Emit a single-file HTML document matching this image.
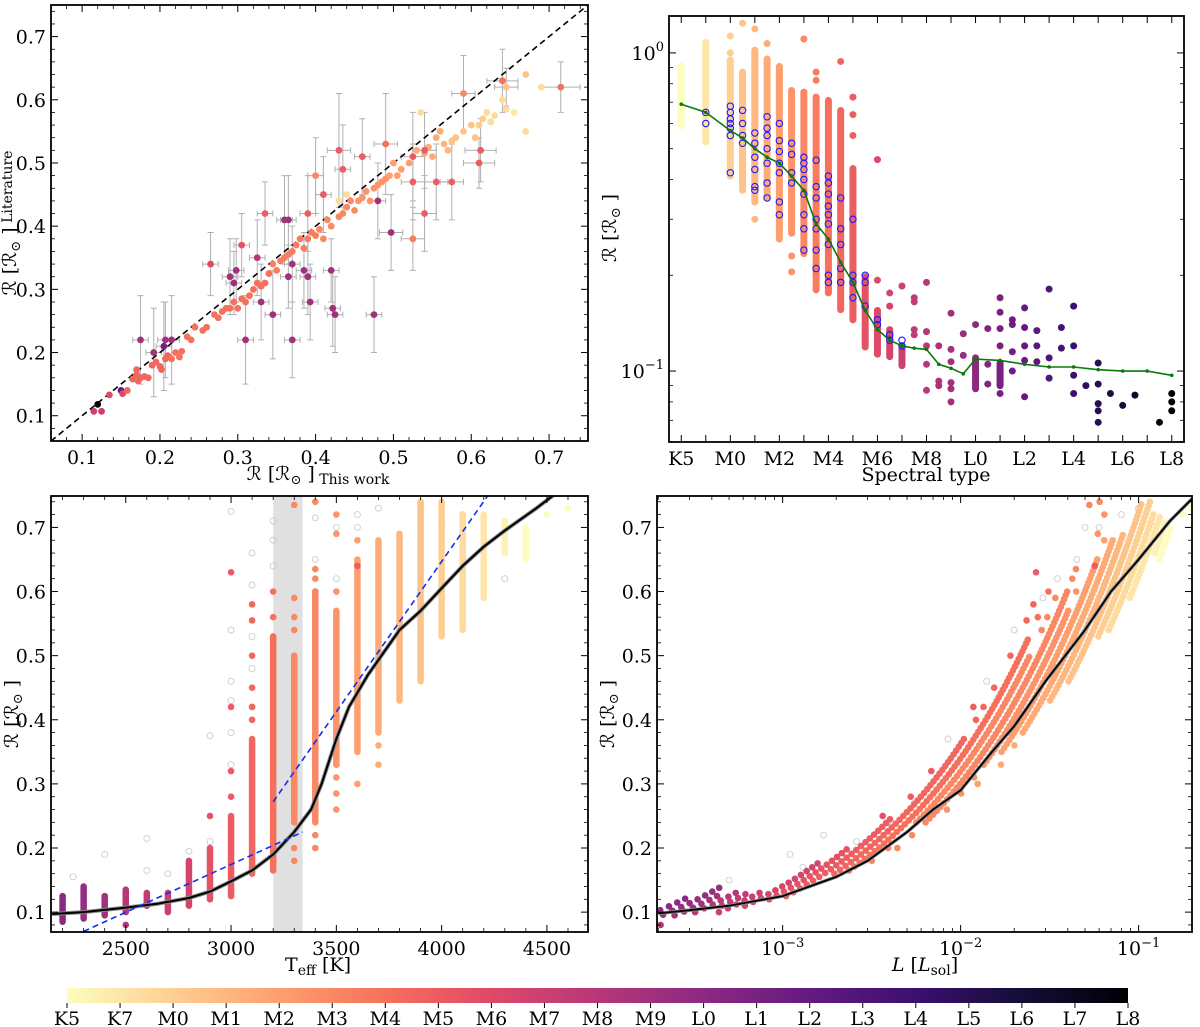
<!DOCTYPE html>
<html><head><meta charset="utf-8"><style>
html,body{margin:0;padding:0;background:#fff;}
svg{display:block;font-family:"DejaVu Serif","Liberation Serif",serif;}
</style></head><body>
<svg id="fig" width="1200" height="1027" viewBox="0 0 1200 1027" xmlns="http://www.w3.org/2000/svg"></svg>
<script>
// ---------- Panel 1 data: this work vs literature ----------
const p1X=[0.115,0.125,0.12,0.135,0.15,0.152,0.158,0.165,0.17,0.172,0.175,0.17,0.18,0.185,0.19,0.195,0.2,0.202,0.207,0.21,0.215,0.22,0.225,0.228,0.235,0.24,0.245,0.255,0.26,0.27,0.275,0.28,0.285,0.29,0.295,0.3,0.305,0.31,0.315,0.32,0.325,0.33,0.335,0.34,0.345,0.35,0.355,0.36,0.365,0.37,0.375,0.38,0.385,0.39,0.395,0.4,0.405,0.41,0.415,0.42,0.43,0.435,0.44,0.445,0.45,0.455,0.46,0.465,0.47,0.475,0.48,0.485,0.49,0.495,0.5,0.505,0.51,0.52,0.53,0.54,0.545,0.55,0.555,0.56,0.565,0.57,0.575,0.58,0.59,0.6,0.605,0.61,0.615,0.62,0.625,0.63,0.64,0.645,0.655,0.67,0.67,0.69,0.535,0.44,0.43];
const p1Y=[0.107,0.107,0.118,0.133,0.14,0.135,0.14,0.158,0.165,0.155,0.16,0.173,0.162,0.16,0.18,0.185,0.178,0.173,0.19,0.195,0.19,0.2,0.193,0.202,0.225,0.22,0.24,0.235,0.24,0.26,0.255,0.265,0.27,0.27,0.28,0.27,0.285,0.28,0.29,0.3,0.31,0.305,0.31,0.325,0.34,0.33,0.345,0.35,0.355,0.36,0.37,0.38,0.365,0.38,0.39,0.385,0.395,0.38,0.41,0.4,0.415,0.42,0.43,0.44,0.425,0.44,0.445,0.455,0.44,0.46,0.465,0.47,0.475,0.48,0.5,0.48,0.49,0.5,0.52,0.515,0.525,0.51,0.54,0.55,0.53,0.52,0.535,0.54,0.55,0.56,0.54,0.56,0.57,0.58,0.565,0.575,0.6,0.585,0.58,0.55,0.64,0.62,0.58,0.45,0.44];
const p1S=[9,9,20,8,14,8,6.5,6.5,6.5,6.5,6.5,6.5,6.5,6.5,6.5,6.5,6.5,6.5,6.5,6.5,6,6,6,6,6,6,6,6,6,6,6,6,6,6,6,6,6,6,6,6,6,6,6,6,5.5,5.5,5.5,5.5,5.5,5.5,5.5,5.5,5.5,5.5,5.5,5.5,5,5,5,5,5,5,5,5,5,4.5,4.5,4.5,4.5,4.5,4.5,4.5,4.5,4,4,4,4,4,3.5,3.5,3.5,3.5,3.5,3.5,3,3,2.5,2.5,2.5,2.5,2.5,2,2,1.5,1.5,1.5,1.5,1.5,1,1.5,2.5,1.5,1.5,1.5,1.5,1.5];
const eX=[0.175,0.192,0.205,0.207,0.215,0.265,0.29,0.295,0.298,0.305,0.31,0.325,0.33,0.335,0.345,0.36,0.365,0.365,0.37,0.37,0.385,0.39,0.39,0.393,0.4,0.41,0.42,0.422,0.425,0.43,0.435,0.46,0.475,0.49,0.48,0.497,0.525,0.525,0.525,0.54,0.54,0.555,0.575,0.59,0.61,0.612,0.64,0.715,0.645];
const eY=[0.22,0.2,0.21,0.22,0.22,0.34,0.32,0.31,0.33,0.37,0.22,0.35,0.28,0.42,0.26,0.41,0.41,0.32,0.22,0.34,0.33,0.32,0.42,0.28,0.48,0.45,0.33,0.27,0.26,0.52,0.49,0.51,0.26,0.53,0.44,0.39,0.51,0.47,0.38,0.52,0.42,0.47,0.47,0.61,0.5,0.52,0.63,0.62,0.62];
const eXerr=[0.01,0.01,0.01,0.01,0.01,0.01,0.01,0.01,0.01,0.01,0.01,0.01,0.01,0.01,0.01,0.01,0.01,0.01,0.01,0.01,0.01,0.01,0.01,0.01,0.01,0.01,0.01,0.01,0.01,0.015,0.01,0.01,0.01,0.015,0.01,0.015,0.015,0.015,0.015,0.015,0.015,0.015,0.015,0.015,0.02,0.02,0.02,0.025,0.015];
const eYerr=[0.07,0.07,0.07,0.06,0.07,0.05,0.06,0.05,0.05,0.05,0.07,0.06,0.06,0.05,0.07,0.07,0.07,0.05,0.06,0.06,0.06,0.06,0.06,0.06,0.06,0.06,0.05,0.06,0.06,0.09,0.07,0.06,0.06,0.08,0.06,0.06,0.07,0.06,0.05,0.06,0.06,0.06,0.06,0.06,0.04,0.05,0.05,0.04,0.03];
const eS=[11,11,13,11,11,8,11,11,11,7.5,11,10,11,7,11,11,11,11,11,11,11,11,7,11,5,7,11,11,11,7,7,7,11,6,11,11,7,7,5.5,7,7,7,7,5,7,7,6,6,2.5];

// ---------- Panel 2 data: radius vs spectral type ----------
const sptTickLabels=["K5","M0","M2","M4","M6","M8","L0","L2","L4","L6","L8"];
const sptTickPos=[0,2,4,6,8,10,12,14,16,18,20];
const colSpt=[0,1,2,2.5,3,3.5,4,4.5,5,5.5,6,6.5,7,7.5,8,8.5,9,12,13];
const colMin=[0.59,0.525,0.41,0.37,0.34,0.35,0.264,0.271,0.234,0.18,0.176,0.156,0.145,0.119,0.113,0.111,0.104,0.088,0.09];
const colMax=[0.91,1.08,0.95,0.87,1.02,0.957,0.906,0.762,0.753,0.726,0.709,0.659,0.433,0.198,0.155,0.135,0.12,0.11,0.106];
const ptSpt=[2,2,2.5,3,3,3.5,4,4.5,4.5,5,5.5,5.5,5.5,6.5,7,7,7,8,8,8.5,8.5,9,9.5,9.5,9.5,9.5,10,10,10,10,10,10.5,10.5,10.5,11,11,11,11,11,11,11.5,11.5,12,12.5,12.5,12.5,13,13,13,13,13,13.5,13.5,13.5,13.5,14,14,14,14,14,14.5,14.5,14.5,15,15,15,15.5,15.5,16,16,16,16,16.5,17,17,17,17,17,17.5,18,18.5,19.5,20,20,20];
const ptR=[1.13,1.0,1.24,1.19,0.3,1.07,0.26,0.205,0.23,1.106,0.87,0.82,0.2,0.94,0.64,0.55,0.726,0.462,0.193,0.176,0.16,0.185,0.17,0.165,0.135,0.13,0.19,0.133,0.12,0.105,0.087,0.12,0.093,0.09,0.152,0.117,0.107,0.092,0.088,0.08,0.131,0.112,0.14,0.136,0.105,0.091,0.17,0.153,0.136,0.12,0.085,0.145,0.14,0.115,0.1,0.158,0.137,0.12,0.108,0.083,0.134,0.12,0.107,0.181,0.11,0.095,0.137,0.118,0.16,0.12,0.097,0.085,0.09,0.106,0.091,0.079,0.075,0.069,0.085,0.078,0.084,0.069,0.085,0.08,0.075];
const openSpt=[1,1,2,2,2,2,2,2,2,2.5,2.5,2.5,2.5,3,3,3,3,3,3,3.5,3.5,3.5,3.5,3.5,3.5,3.5,4,4,4,4,4,4,4,4.5,4.5,4.5,4.5,5,5,5,5,5,5,5,5,5.5,5.5,5.5,5.5,5.5,5.5,5.5,6,6,6,6,6,6,6,6,6,6.5,6.5,6.5,6.5,6.5,7,7,7,7,7.5,7.5,7.5,8,8,8.5,8.5,9,9];
const openR=[0.65,0.6,0.68,0.65,0.62,0.6,0.58,0.55,0.42,0.66,0.6,0.55,0.52,0.56,0.52,0.47,0.43,0.38,0.37,0.63,0.58,0.55,0.5,0.45,0.39,0.35,0.6,0.53,0.49,0.45,0.42,0.34,0.31,0.52,0.48,0.42,0.39,0.47,0.45,0.43,0.4,0.36,0.31,0.28,0.24,0.46,0.38,0.35,0.3,0.28,0.24,0.21,0.41,0.39,0.36,0.33,0.31,0.29,0.25,0.2,0.19,0.35,0.28,0.25,0.21,0.19,0.3,0.2,0.19,0.17,0.2,0.19,0.16,0.145,0.14,0.13,0.125,0.125,0.12];
const medSpt=[0,1,2,2.5,3,3.5,4,4.5,5,5.5,6,6.5,7,7.5,8,8.5,9,9.5,10,10.5,11,11.5,12,13,14,15,16,17,18,19,20];
const medR=[0.69,0.65,0.57,0.54,0.5,0.47,0.45,0.41,0.37,0.29,0.26,0.22,0.19,0.155,0.135,0.125,0.12,0.118,0.117,0.105,0.102,0.098,0.109,0.108,0.105,0.103,0.103,0.101,0.1,0.1,0.097];

// ---------- Panel 3 data: radius vs Teff ----------
const tCol=[2200,2300,2400,2500,2600,2700,2800,2900,3000,3100,3200,3300,3400,3500,3600,3700,3800,3900,4000,4100,4200,4300,4400];
const tMin=[0.085,0.09,0.095,0.1,0.11,0.1,0.11,0.12,0.125,0.16,0.165,0.24,0.24,0.33,0.35,0.38,0.43,0.46,0.53,0.54,0.59,0.66,0.65];
const tMax=[0.125,0.14,0.125,0.135,0.13,0.13,0.18,0.2,0.25,0.37,0.53,0.5,0.6,0.57,0.65,0.68,0.69,0.74,0.74,0.72,0.72,0.71,0.7];
const tSpt=[12,11.5,11,10,9.5,9,8.5,7.5,7,6.5,6,5,5,4.5,4,3.5,3,2.5,2,1.5,1,0.5,0];
const tPtT=[2500,2900,3000,3000,3000,3000,3100,3100,3100,3100,3100,3100,3200,3200,3300,3300,3300,3300,3300,3300,3400,3400,3400,3400,3400,3500,3500,3500,3500,3500,3500,3600,3600,3700,3700,4500,4600,3600];
const tPtR=[0.08,0.25,0.28,0.32,0.42,0.63,0.4,0.42,0.45,0.5,0.555,0.58,0.56,0.6,0.18,0.2,0.54,0.56,0.59,0.735,0.2,0.22,0.62,0.635,0.74,0.26,0.285,0.31,0.6,0.69,0.72,0.3,0.68,0.33,0.36,0.72,0.73,0.64];
const tPtS=[10,7.5,7,7,7,7,6.5,6.5,6.5,6.5,6.5,6.5,6,6,5,5,5,5,5,5,5,5,5,5,5,4.5,4.5,4.5,4.5,4.5,4.5,4,4,3.5,3.5,0,0,7];
const gT=[2250,2400,2600,2600,2700,2800,2900,2900,3000,3000,3000,3000,3000,3000,3100,3100,3100,3100,3100,3200,3200,3200,3400,3400,3400,3500,3500,3500,3600,3600,3700,3800,3900,4000,4100,4200,4300];
const gR=[0.155,0.19,0.165,0.215,0.16,0.195,0.21,0.375,0.33,0.38,0.43,0.46,0.54,0.725,0.42,0.48,0.53,0.61,0.66,0.64,0.68,0.71,0.6,0.65,0.715,0.33,0.62,0.7,0.7,0.72,0.73,0.47,0.73,0.7,0.72,0.715,0.62];
const fitT=[2150,2300,2500,2650,2800,2900,3000,3100,3200,3300,3380,3430,3500,3560,3650,3800,3900,4000,4100,4200,4300,4450,4550];
const fitR=[0.097,0.1,0.107,0.113,0.122,0.132,0.148,0.165,0.19,0.225,0.26,0.3,0.37,0.42,0.47,0.54,0.57,0.605,0.64,0.67,0.695,0.73,0.755];
const dash1T=[2300,3340], dash1R=[0.07,0.225];
const dash2T=[3200,4220], dash2R=[0.272,0.75];

// ---------- Panel 4 data: radius vs luminosity ----------
const fitL=[2e-4,3e-4,5e-4,1e-3,2e-3,3e-3,5e-3,7e-3,1e-2,1.5e-2,2e-2,3e-2,5e-2,7e-2,0.1,0.15,0.2];
const fitLR=[0.098,0.103,0.11,0.125,0.155,0.18,0.225,0.26,0.29,0.35,0.39,0.46,0.54,0.6,0.65,0.71,0.745];
const gL=[5e-4,9e-4,1.1e-3,1.3e-3,1.7e-3,2.6e-3,3.9e-3,5.5e-3,8.5e-3,1.4e-2,2e-2,2.9e-2,3.5e-2,4.5e-2,5e-2,6e-2,8e-2,1e-1,1.2e-1];
const gLR=[0.15,0.13,0.19,0.17,0.22,0.21,0.24,0.27,0.37,0.46,0.54,0.59,0.62,0.65,0.7,0.7,0.72,0.73,0.7];
const cbLabels=["K5","K7","M0","M1","M2","M3","M4","M5","M6","M7","M8","M9","L0","L1","L2","L3","L4","L5","L6","L7","L8"];

// ---------- helpers ----------
const NS="http://www.w3.org/2000/svg";
const svg=document.getElementById('fig');
const FS=19;
function mk(tag,attrs,name,parent){
  const el=document.createElementNS(NS,tag);
  for(const k in attrs) el.setAttribute(k,attrs[k]);
  
  
  (parent||svg).appendChild(el);
  return el;
}
const MAG=[[0,0,0,4],[0.1,20,14,54],[0.2,59,15,112],[0.3,100,26,128],[0.4,140,41,129],[0.5,183,55,121],[0.6,222,73,104],[0.7,247,112,92],[0.8,254,159,109],[0.9,254,207,146],[1,252,253,191]];
function cmap(spt){
  let t=1-spt/20; t=Math.max(0,Math.min(1,t));
  for(let i=0;i<MAG.length-1;i++){const a=MAG[i],b=MAG[i+1];
    if(t<=b[0]){const f=(t-a[0])/(b[0]-a[0]);
      return `rgb(${Math.round(a[1]+f*(b[1]-a[1]))},${Math.round(a[2]+f*(b[2]-a[2]))},${Math.round(a[3]+f*(b[3]-a[3]))})`;}}
  return 'rgb(252,253,191)';
}
function P(x0,x1,y0,y1,xmin,xmax,ymin,ymax,xlog,ylog,id){return {x0,x1,y0,y1,xmin,xmax,ymin,ymax,xlog,ylog,id};}
function sx(p,v){const u=p.xlog?Math.log10(v):v;return p.x0+(u-p.xmin)/(p.xmax-p.xmin)*(p.x1-p.x0);}
function sy(p,v){const u=p.ylog?Math.log10(v):v;return p.y1-(u-p.ymin)/(p.ymax-p.ymin)*(p.y1-p.y0);}
const defs=mk('defs',{},'defs');
function clip(p){const c=mk('clipPath',{id:'c'+p.id},'clip-'+p.id,defs);mk('rect',{x:p.x0,y:p.y0,width:p.x1-p.x0,height:p.y1-p.y0},'clip-rect',c);return mk('g',{'clip-path':`url(#c${p.id})`},'plot-area-'+p.id);}
function frame(p){mk('rect',{x:p.x0,y:p.y0,width:p.x1-p.x0,height:p.y1-p.y0,fill:'none',stroke:'#000','stroke-width':1.8},'axes-frame-'+p.id);}
function xticks(p,majors,minors,labels){
  majors.forEach((v,i)=>{const x=sx(p,v);
    mk('line',{x1:x,x2:x,y1:p.y1,y2:p.y1-7,stroke:'#000','stroke-width':1},'x-major-tick');
    mk('line',{x1:x,x2:x,y1:p.y0,y2:p.y0+7,stroke:'#000','stroke-width':1},'x-major-tick-top');
    if(labels){const t=mk('text',{x:x,y:p.y1+23,'text-anchor':'middle','font-size':FS},'x-tick-label');
      if(typeof labels[i]==='object'){t.textContent='10';const s=mk('tspan',{dy:-8,'font-size':13},'tick-exponent',t);s.textContent=labels[i].e;}
      else t.textContent=labels[i];}
  });
  minors.forEach(v=>{const x=sx(p,v);
    mk('line',{x1:x,x2:x,y1:p.y1,y2:p.y1-4,stroke:'#000','stroke-width':0.8},'x-minor-tick');
    mk('line',{x1:x,x2:x,y1:p.y0,y2:p.y0+4,stroke:'#000','stroke-width':0.8},'x-minor-tick-top');});
}
function yticks(p,majors,minors,labels){
  majors.forEach((v,i)=>{const y=sy(p,v);
    mk('line',{x1:p.x0,x2:p.x0+7,y1:y,y2:y,stroke:'#000','stroke-width':1},'y-major-tick');
    mk('line',{x1:p.x1,x2:p.x1-7,y1:y,y2:y,stroke:'#000','stroke-width':1},'y-major-tick-right');
    const t=mk('text',{x:p.x0-5,y:y+7,'text-anchor':'end','font-size':FS},'y-tick-label');
    if(typeof labels[i]==='object'){t.textContent='10';const s=mk('tspan',{dy:-9,'font-size':13},'tick-exponent',t);s.textContent=labels[i].e;}
    else t.textContent=labels[i];
  });
  minors.forEach(v=>{const y=sy(p,v);
    mk('line',{x1:p.x0,x2:p.x0+4,y1:y,y2:y,stroke:'#000','stroke-width':0.8},'y-minor-tick');
    mk('line',{x1:p.x1,x2:p.x1-4,y1:y,y2:y,stroke:'#000','stroke-width':0.8},'y-minor-tick-right');});
}
function range(a,b,s){const r=[];for(let v=a;v<=b+1e-9;v+=s)r.push(+v.toFixed(4));return r;}
function ylab(x,y,sub){const t=mk('text',{x:0,y:0,'text-anchor':'middle','font-size':FS,transform:`translate(${x},${y}) rotate(-90)`},'y-axis-title');
  t.textContent='ℛ [ℛ';const s=mk('tspan',{'font-size':13,dy:4},'sun-subscript',t);s.textContent='⊙';const s2=mk('tspan',{dy:-4},'bracket',t);s2.textContent=' ]';
  if(sub){const s3=mk('tspan',{'font-size':14,dy:-4},'y-title-sub',t);s3.textContent=' '+sub;}}
function line(g,p,xs,ys,attrs,name){const d=xs.map((v,i)=>(i?'L':'M')+sx(p,v).toFixed(1)+','+sy(p,ys[i]).toFixed(1)).join('');const a=Object.assign({d:d,fill:'none'},attrs);return mk('path',a,name,g);}
const rng01=[0.1,0.2,0.3,0.4,0.5,0.6,0.7];
const minor01=range(0.06,0.75,0.02).filter(v=>!rng01.some(m=>Math.abs(m-v)<1e-6));

// ---------- Panel 1 ----------
const p1=P(51,588,5,441,0.06,0.75,0.06,0.75,false,false,'p1');
let g=clip(p1);
eX.forEach((x,i)=>{
  const X=sx(p1,x),Y=sy(p1,eY[i]),xa=sx(p1,x-eXerr[i]),xb=sx(p1,x+eXerr[i]),ya=sy(p1,eY[i]-eYerr[i]),yb=sy(p1,eY[i]+eYerr[i]);
  mk('path',{d:`M${xa},${Y}H${xb}M${X},${ya}V${yb}M${xa},${Y-3}V${Y+3}M${xb},${Y-3}V${Y+3}M${X-3},${ya}H${X+3}M${X-3},${yb}H${X+3}`,stroke:'#b0b0b0','stroke-width':1,fill:'none'},'error-bar',g);
});
mk('line',{x1:sx(p1,0.06),y1:sy(p1,0.06),x2:sx(p1,0.75),y2:sy(p1,0.75),stroke:'#000','stroke-width':1.6,'stroke-dasharray':'6,4'},'one-to-one-line',g);
p1X.forEach((x,i)=>{mk('circle',{cx:sx(p1,x),cy:sy(p1,p1Y[i]),r:3.4,fill:cmap(p1S[i])},'star-point',g);});
eX.forEach((x,i)=>{mk('circle',{cx:sx(p1,x),cy:sy(p1,eY[i]),r:3.4,fill:cmap(eS[i])},'star-point-literature',g);});
frame(p1);
xticks(p1,rng01,minor01,rng01.map(v=>v.toFixed(1)));
yticks(p1,rng01,minor01,rng01.map(v=>v.toFixed(1)));
ylab(16,223,'Literature');
{const t=mk('text',{x:318,y:480,'text-anchor':'middle','font-size':FS},'x-axis-title');t.textContent='ℛ [ℛ';const s=mk('tspan',{'font-size':13,dy:4},'sun-subscript',t);s.textContent='⊙';const s2=mk('tspan',{dy:-4},'bracket',t);s2.textContent=' ]';const s3=mk('tspan',{'font-size':14,dy:4},'x-title-sub',t);s3.textContent=' This work';}

// ---------- Panel 2 ----------
const p2=P(669,1184,16,442,-0.5,20.5,-1.223,0.116,false,true,'p2');
g=clip(p2);
colSpt.forEach((s,i)=>{const x=sx(p2,s);mk('line',{x1:x,x2:x,y1:sy(p2,colMin[i]),y2:sy(p2,colMax[i]),stroke:cmap(s),'stroke-width':7,'stroke-linecap':'round'},'spt-column',g);});
ptSpt.forEach((s,i)=>{mk('circle',{cx:sx(p2,s),cy:sy(p2,ptR[i]),r:3.5,fill:cmap(s)},'spt-point',g);});
openSpt.forEach((s,i)=>{mk('circle',{cx:sx(p2,s),cy:sy(p2,openR[i]),r:3.2,fill:'none',stroke:'#1a1aff','stroke-width':1.1},'literature-open-circle',g);});
line(g,p2,medSpt,medR,{stroke:'#0a7a0a','stroke-width':1.6},'median-line');
medSpt.forEach((s,i)=>{mk('circle',{cx:sx(p2,s),cy:sy(p2,medR[i]),r:1.8,fill:'#0a7a0a'},'median-marker',g);});
frame(p2);
xticks(p2,range(0,20,1),[],null);
sptTickPos.forEach((v,i)=>{const t=mk('text',{x:sx(p2,v),y:p2.y1+23,'text-anchor':'middle','font-size':FS},'x-tick-label');t.textContent=sptTickLabels[i];});
{const minors=[];[0.01,0.1].forEach(d=>{for(let k=2;k<=9;k++)minors.push(d*k);});minors.push(0.06);
 yticks(p2,[1,0.1],minors.filter(v=>Math.log10(v)>=-1.223&&Math.log10(v)<=0.116),[{e:'0'},{e:'−1'}]);}
ylab(616,228,null);
{const t=mk('text',{x:926,y:481,'text-anchor':'middle','font-size':FS},'x-axis-title');t.textContent='Spectral type';}

// ---------- Panel 3 ----------
const p3=P(51,588,496,932,2145,4695,0.069,0.749,false,false,'p3');
g=clip(p3);
mk('rect',{x:sx(p3,3200),y:p3.y0,width:sx(p3,3340)-sx(p3,3200),height:p3.y1-p3.y0,fill:'#e0e0e0'},'shaded-band',g);
gT.forEach((t,i)=>{mk('circle',{cx:sx(p3,t),cy:sy(p3,gR[i]),r:3,fill:'none',stroke:'#ccc','stroke-width':0.9},'grey-open-circle',g);});
tCol.forEach((t,i)=>{const x=sx(p3,t);mk('line',{x1:x,x2:x,y1:sy(p3,tMin[i]),y2:sy(p3,tMax[i]),stroke:cmap(tSpt[i]),'stroke-width':6.5,'stroke-linecap':'round'},'teff-column',g);});
tPtT.forEach((t,i)=>{mk('circle',{cx:sx(p3,t),cy:sy(p3,tPtR[i]),r:3.3,fill:cmap(tPtS[i])},'teff-point',g);});
line(g,p3,fitT,fitR,{stroke:'#888','stroke-width':4},'fit-band');
line(g,p3,fitT,fitR,{stroke:'#000','stroke-width':2},'fit-line');
line(g,p3,dash1T,dash1R,{stroke:'#1030ee','stroke-width':1.6,'stroke-dasharray':'6,4'},'dashed-fit-low');
line(g,p3,dash2T,dash2R,{stroke:'#1030ee','stroke-width':1.6,'stroke-dasharray':'6,4'},'dashed-fit-high');
frame(p3);
xticks(p3,[2500,3000,3500,4000,4500],range(2200,4600,100).filter(v=>v%500),['2500','3000','3500','4000','4500']);
yticks(p3,rng01,minor01.filter(v=>v>=0.07),rng01.map(v=>v.toFixed(1)));
ylab(18,714,null);
{const t=mk('text',{x:318,y:971,'text-anchor':'middle','font-size':FS},'x-axis-title');t.textContent='T';const s=mk('tspan',{'font-size':14,dy:4},'teff-subscript',t);s.textContent='eff';const s2=mk('tspan',{dy:-4},'unit',t);s2.textContent=' [K]';}

// ---------- Panel 4 ----------
const p4=P(657,1192,496,932,-3.706,-0.70,0.069,0.749,true,false,'p4');
g=clip(p4);
gL.forEach((l,i)=>{mk('circle',{cx:sx(p4,l),cy:sy(p4,gLR[i]),r:3,fill:'none',stroke:'#ccc','stroke-width':0.9},'grey-open-circle',g);});
tCol.forEach((t,i)=>{const f=Math.pow(t/5900,4);const c=cmap(tSpt[i]);
  for(let r=tMin[i];r<=tMax[i]+1e-9;r+=0.006){mk('circle',{cx:sx(p4,r*r*f),cy:sy(p4,r),r:3.3,fill:c},'lum-point',g);}});
tPtT.forEach((t,i)=>{const f=Math.pow(t/5900,4);mk('circle',{cx:sx(p4,tPtR[i]*tPtR[i]*f),cy:sy(p4,tPtR[i]),r:3.3,fill:cmap(tPtS[i])},'lum-point-extra',g);});
line(g,p4,fitL,fitLR,{stroke:'#888','stroke-width':3.5},'fit-band');
line(g,p4,fitL,fitLR,{stroke:'#000','stroke-width':1.8},'fit-line');
frame(p4);
{const minors=[];[1e-4,1e-3,1e-2,1e-1].forEach(d=>{for(let k=2;k<=9;k++)minors.push(d*k);});
 xticks(p4,[1e-3,1e-2,1e-1],minors.filter(v=>Math.log10(v)>-3.706&&Math.log10(v)<-0.7),[{e:'−3'},{e:'−2'},{e:'−1'}]);}
yticks(p4,rng01,minor01.filter(v=>v>=0.07),rng01.map(v=>v.toFixed(1)));
ylab(614,714,null);
{const t=mk('text',{x:925,y:971,'text-anchor':'middle','font-size':FS},'x-axis-title');const a=mk('tspan',{'font-style':'italic'},'L-symbol',t);a.textContent='L';const b=mk('tspan',{},'unit',t);b.textContent=' [';const c=mk('tspan',{'font-style':'italic'},'L-unit',t);c.textContent='L';const d=mk('tspan',{'font-size':14,dy:4},'sol-subscript',t);d.textContent='sol';const e=mk('tspan',{dy:-4},'bracket',t);e.textContent=']';}

// ---------- Colorbar ----------
const lg=mk('linearGradient',{id:'cbg',x1:0,x2:1,y1:0,y2:0},'colorbar-gradient',defs);
MAG.slice().reverse().forEach(s=>{mk('stop',{offset:(1-s[0]),'stop-color':`rgb(${s[1]},${s[2]},${s[3]})`},'gradient-stop',lg);});
mk('rect',{x:67,y:988,width:1061,height:15,fill:'url(#cbg)'},'colorbar');
cbLabels.forEach((l,i)=>{const x=67+i*1061/20;
  mk('line',{x1:x,x2:x,y1:1003,y2:1008,stroke:'#000','stroke-width':1},'colorbar-tick');
  const t=mk('text',{x:x,y:1025,'text-anchor':'middle','font-size':FS},'colorbar-label');t.textContent=l;});
</script>
</body></html>
